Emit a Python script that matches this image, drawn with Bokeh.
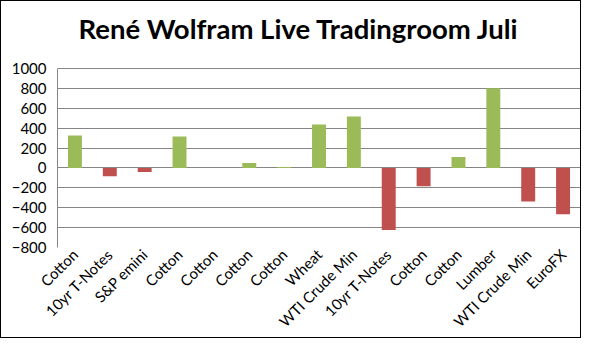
from bokeh.plotting import figure
from bokeh.models import FixedTicker, Range1d, ColumnDataSource
from bokeh.embed import file_html
from bokeh.resources import INLINE
from math import pi

categories = ["Cotton", "10yr T-Notes", "S&P emini", "Cotton", "Cotton", "Cotton", "Cotton",
              "Wheat", "WTI Crude Min", "10yr T-Notes", "Cotton", "Cotton", "Lumber",
              "WTI Crude Min", "EuroFX"]
values = [325, -85, -40, 315, 0, 50, 10, 437, 517, -625, -185, 110, 800, -338, -465]
y_ticks = [-800, -600, -400, -200, 0, 200, 400, 600, 800, 1000]

GREEN = "#9BBB59"
RED = "#C0504D"

xs = list(range(1, len(categories) + 1))
colors = [GREEN if v >= 0 else RED for v in values]
src = ColumnDataSource(dict(x=xs, top=values, color=colors))

p = figure(width=581, height=338, output_backend="svg", toolbar_location=None,
           x_range=Range1d(0.5, len(categories) + 0.5), y_range=Range1d(-800, 1160),
           title="René Wolfram Live Tradingroom Juli",
           min_border_left=56, min_border_right=2, min_border_top=51, min_border_bottom=87)
p.styles = {"border": "1px solid black"}

p.title.align = "left"
p.title.offset = 21
p.title.vertical_align = "top"
p.title.text_font = "Lato"
p.title.text_font_style = "bold"
p.title.text_font_size = "27.5px"
p.title.text_color = "black"
p.title.standoff = 12

p.vbar(x="x", top="top", bottom=0, width=0.4, fill_color="color", line_color=None, source=src)

p.outline_line_color = None
p.xgrid.grid_line_color = None
p.ygrid.grid_line_color = "#868686"
p.ygrid.grid_line_width = 1
p.yaxis.ticker = FixedTicker(ticks=y_ticks)
p.yaxis.bounds = (-800, 1000)
p.yaxis.axis_line_color = "#868686"
p.yaxis.major_tick_line_color = None
p.yaxis.minor_tick_line_color = None
p.yaxis.major_label_text_font = "Lato"
p.yaxis.major_label_text_font_size = "15px"
p.yaxis.major_label_text_color = "black"

p.xaxis.ticker = FixedTicker(ticks=xs)
p.xaxis.major_label_overrides = {x: c for x, c in zip(xs, categories)}
p.xaxis.major_label_orientation = pi / 4
p.xaxis.axis_line_color = None
p.xaxis.major_tick_line_color = None
p.xaxis.minor_tick_line_color = None
p.xaxis.major_tick_out = 0
p.xaxis.major_label_standoff = 4
p.xaxis.major_label_text_font = "Lato"
p.xaxis.major_label_text_font_size = "15px"
p.xaxis.major_label_text_color = "black"

open("out.html", "w").write(file_html(p, INLINE))
